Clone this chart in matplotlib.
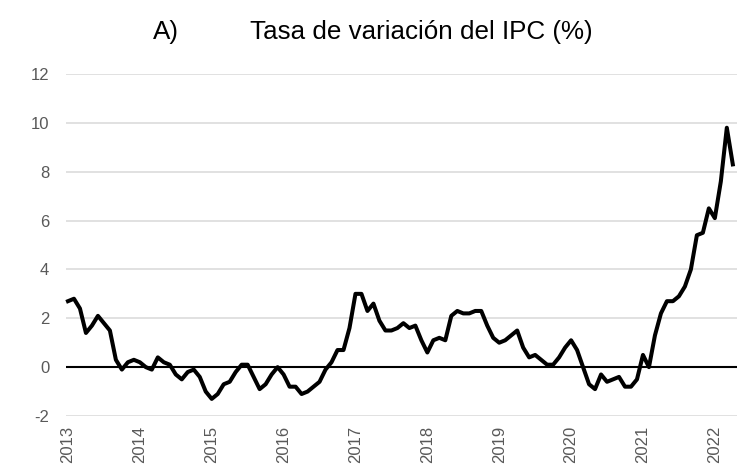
import matplotlib.pyplot as plt
import numpy as np

plt.rcParams['font.family'] = ['Liberation Sans', 'DejaVu Sans']
plt.rcParams['axes.unicode_minus'] = False

# Tasa de variación anual del IPC, mensual, ene 2013 - abr 2022
ipc_2013 = [2.7, 2.8, 2.4, 1.4, 1.7, 2.1, 1.8, 1.5, 0.3, -0.1, 0.2, 0.3]
ipc_2014 = [0.2, 0.0, -0.1, 0.4, 0.2, 0.1, -0.3, -0.5, -0.2, -0.1, -0.4, -1.0]
ipc_2015 = [-1.3, -1.1, -0.7, -0.6, -0.2, 0.1, 0.1, -0.4, -0.9, -0.7, -0.3, 0.0]
ipc_2016 = [-0.3, -0.8, -0.8, -1.1, -1.0, -0.8, -0.6, -0.1, 0.2, 0.7, 0.7, 1.6]
ipc_2017 = [3.0, 3.0, 2.3, 2.6, 1.9, 1.5, 1.5, 1.6, 1.8, 1.6, 1.7, 1.1]
ipc_2018 = [0.6, 1.1, 1.2, 1.1, 2.1, 2.3, 2.2, 2.2, 2.3, 2.3, 1.7, 1.2]
ipc_2019 = [1.0, 1.1, 1.3, 1.5, 0.8, 0.4, 0.5, 0.3, 0.1, 0.1, 0.4, 0.8]
ipc_2020 = [1.1, 0.7, 0.0, -0.7, -0.9, -0.3, -0.6, -0.5, -0.4, -0.8, -0.8, -0.5]
ipc_2021 = [0.5, 0.0, 1.3, 2.2, 2.7, 2.7, 2.9, 3.3, 4.0, 5.4, 5.5, 6.5]
ipc_2022 = [6.1, 7.6, 9.8, 8.3]

years = ['2013', '2014', '2015', '2016', '2017', '2018', '2019', '2020', '2021', '2022']

ipc = (ipc_2013 + ipc_2014 + ipc_2015 + ipc_2016 + ipc_2017 + ipc_2018
       + ipc_2019 + ipc_2020 + ipc_2021 + ipc_2022)
x = np.arange(len(ipc))

fig = plt.figure(figsize=(7.37, 4.68), dpi=100)
ax = fig.add_axes([66 / 737, 1 - 416 / 468, 1 - 66 / 737, (416 - 74) / 468])

ax.set_ylim(-2, 12)
ax.set_xlim(-0.33, 111.7)
ax.set_yticks(range(-2, 13, 2))
ax.set_xticks(np.arange(len(years)) * 12)
ax.set_xticklabels(years, rotation=90)
ax.grid(axis='y', color='#d9d9d9', linewidth=1.1)
ax.set_axisbelow(True)
for s in ax.spines.values():
    s.set_visible(False)
ax.tick_params(length=0, colors='#595959', labelsize=12)
ax.tick_params(axis='y', pad=12)
ax.tick_params(axis='x', pad=7)

ax.axhline(0, color='black', linewidth=1.5)
ax.plot(x, ipc, color='black', linewidth=2.9, solid_joinstyle='round', clip_on=False)

fig.text(153 / 737, 1 - 39 / 468, 'A)', fontsize=18.7, va='baseline', ha='left')
fig.text(250 / 737, 1 - 39 / 468, 'Tasa de variación del IPC (%)', fontsize=18.7,
         va='baseline', ha='left')

fig.savefig('out.png', dpi=100)
